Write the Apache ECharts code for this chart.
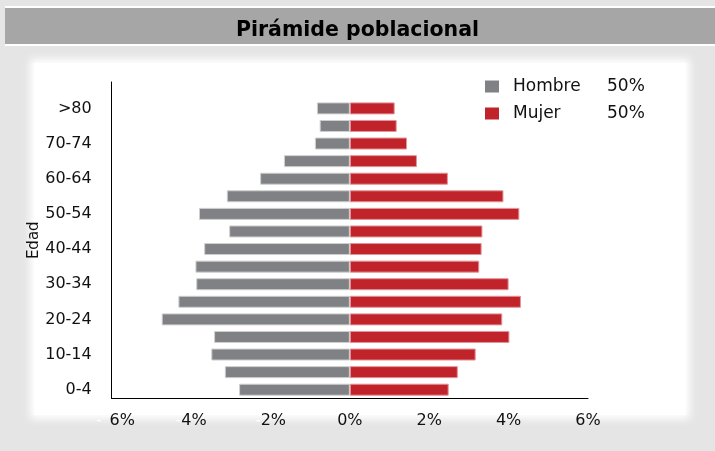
<!DOCTYPE html>
<html>
<head>
<meta charset="utf-8">
<script src="https://cdn.jsdelivr.net/npm/echarts@6/dist/echarts.min.js"></script>
<style>
  html, body { margin: 0; padding: 0; }
  body { width: 715px; height: 451px; background: #e5e5e5; position: relative; overflow: hidden; }
  #topline { position: absolute; left: 5px; top: 6px; width: 710px; height: 2px; background: #ffffff; }
  #titlebar { position: absolute; left: 5px; top: 8px; width: 710px; height: 36px; background: #a6a6a6; }
  #midline { position: absolute; left: 5px; top: 44px; width: 710px; height: 2px; background: #ffffff; }
  #panel { position: absolute; left: 34px; top: 63px; width: 652px; height: 352px; background: #ffffff; box-shadow: 0 0 8px 4px #ffffff; }
  #chart { position: absolute; left: 0; top: 0; width: 715px; height: 451px; }
</style>
</head>
<body>
<div id="topline"></div>
<div id="titlebar"></div>
<div id="midline"></div>
<div id="panel"></div>
<div id="chart"></div>
<script>
// Age groups, bottom to top (the last empty slot is the blank band above ">80")
const categories = ['0-4','5-9','10-14','15-19','20-24','25-29','30-34','35-39','40-44','45-49','50-54','55-59','60-64','65-69','70-74','75-79','>80',''];
// Percent of total population
const hombre = [2.79, 3.15, 3.49, 3.42, 4.74, 4.32, 3.87, 3.89, 3.67, 3.04, 3.80, 3.10, 2.26, 1.66, 0.88, 0.76, 0.83, null];
const mujer  = [2.49, 2.72, 3.17, 4.02, 3.84, 4.31, 4.00, 3.26, 3.32, 3.34, 4.27, 3.87, 2.47, 1.69, 1.44, 1.18, 1.13, null];
const seriesNames = ['Hombre', 'Mujer'];
const totals = ['50%', '50%'];
const xTicks = [-6, -4, -2, 0, 2, 4, 6];

const FONT = 'DejaVu Sans';
const chart = echarts.init(document.getElementById('chart'), null, { renderer: 'canvas' });
chart.setOption({
  backgroundColor: 'transparent',
  animation: false,
  title: {
    text: 'Pirámide poblacional',
    left: 'center',
    top: 15,
    textStyle: { fontFamily: FONT, fontSize: 20.5, fontWeight: 'bold', color: '#000' }
  },
  legend: {
    orient: 'vertical',
    left: 480,
    top: 73,
    itemWidth: 14,
    itemHeight: 12,
    itemGap: 10,
    icon: 'rect',
    itemStyle: { borderWidth: 0 },
    data: seriesNames,
    formatter: function (name) {
      const i = seriesNames.indexOf(name);
      return '{n|' + name + '}{p|' + totals[i] + '}';
    },
    textStyle: {
      fontFamily: FONT, fontSize: 17, color: '#111',
      rich: {
        n: { fontFamily: FONT, fontSize: 17, color: '#111', width: 94, padding: [0, 0, 0, 9] },
        p: { fontFamily: FONT, fontSize: 17, color: '#111' }
      }
    }
  },
  grid: { left: 111.7, right: 127, top: 82, bottom: 52.5, containLabel: false },
  xAxis: {
    type: 'value',
    min: xTicks[0],
    max: xTicks[xTicks.length - 1],
    interval: 2,
    axisLine: { show: true, lineStyle: { color: '#000', width: 1 } },
    axisTick: { show: false },
    splitLine: { show: false },
    axisLabel: {
      margin: 14,
      fontFamily: FONT,
      fontSize: 16,
      color: '#111',
      formatter: function (v) {
        if (v === xTicks[0]) return '{w|-}{v|' + Math.abs(v) + '%}';
        if (v < 0) return '{m|-}{v|' + Math.abs(v) + '%}';
        return '{v|' + v + '%}';
      },
      rich: {
        w: { fontFamily: FONT, fontSize: 16, color: '#ffffff', width: 21, align: 'right' },
        m: { fontFamily: FONT, fontSize: 16, color: '#ffffff' },
        v: { fontFamily: FONT, fontSize: 16, color: '#111' }
      }
    }
  },
  yAxis: {
    type: 'category',
    data: categories,
    name: 'Edad',
    nameLocation: 'middle',
    nameRotate: 90,
    nameGap: 70,
    nameMoveOverlap: false,
    nameTextStyle: { fontFamily: FONT, fontSize: 15, color: '#111' },
    axisLine: { show: true, onZero: false, lineStyle: { color: '#000', width: 1 } },
    axisTick: { show: false },
    splitLine: { show: false },
    axisLabel: { interval: 1, margin: 20, fontFamily: FONT, fontSize: 16, color: '#111' }
  },
  series: [
    {
      name: seriesNames[0],
      type: 'bar',
      stack: 'pop',
      barWidth: 12,
      data: hombre.map(v => v == null ? '-' : -v),
      itemStyle: { color: '#808184', borderColor: '#cfcfd1', borderWidth: 1 }
    },
    {
      name: seriesNames[1],
      type: 'bar',
      stack: 'pop',
      barWidth: 12,
      data: mujer.map(v => v == null ? '-' : v),
      itemStyle: { color: '#c1232b', borderColor: '#e3949a', borderWidth: 1 }
    }
  ]
});
</script>
</body>
</html>
